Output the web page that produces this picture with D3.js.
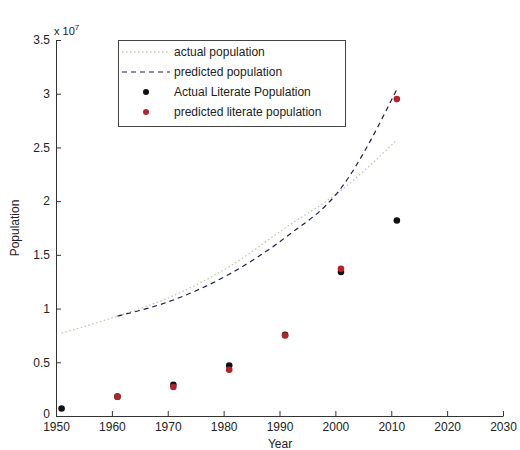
<!DOCTYPE html>
<html><head><meta charset="utf-8">
<script src="https://cdn.jsdelivr.net/npm/d3@7"></script>
<style>body{margin:0;background:#fff}svg{display:block}text{font-family:"Liberation Sans",Arial,sans-serif}</style>
</head><body><svg id="c" width="520" height="450"></svg>
<script>
// values in units of 1e7
const years = [1951, 1961, 1971, 1981, 1991, 2001, 2011];
const actualPopulation = [0.77, 0.93, 1.12, 1.39, 1.75, 2.10, 2.57];
const predYears = [1961, 1971, 1981, 1991, 2001, 2011];
const predictedPopulation = [0.93, 1.08, 1.32, 1.66, 2.12, 3.04];
const actualLiterate = [0.07, 0.18, 0.29, 0.47, 0.755, 1.34, 1.82];
const predictedLiterate = [null, 0.18, 0.27, 0.43, 0.75, 1.37, 2.95];
const xTicks = [1950,1960,1970,1980,1990,2000,2010,2020,2030];
const yTicks = [0,0.5,1,1.5,2,2.5,3,3.5];
const legendLabels = ["actual population","predicted population","Actual  Literate Population","predicted literate population"];

const svg = d3.select("#c");
const x = d3.scaleLinear().domain([1950,2030]).range([56,503]);
const y = d3.scaleLinear().domain([0,3.5]).range([416,40]);
const axisColor = "#333";

// lines
const line = d3.line().x(d=>x(d[0])).y(d=>y(d[1])).curve(d3.curveMonotoneX);
svg.append("path").datum(years.map((v,i)=>[v,actualPopulation[i]]))
  .attr("d",line).attr("fill","none").attr("stroke","#bccaa6").attr("stroke-width",1.3)
  .attr("stroke-dasharray","1.5,2.5");
svg.append("path").datum(predYears.map((v,i)=>[v,predictedPopulation[i]]))
  .attr("d",line).attr("fill","none").attr("stroke","#1c1f4a").attr("stroke-width",1.2)
  .attr("stroke-dasharray","5,4");

// points
svg.append("g").selectAll("circle").data(years.map((v,i)=>[v,actualLiterate[i]]))
  .join("circle").attr("cx",d=>x(d[0])).attr("cy",d=>y(d[1])).attr("r",3.3).attr("fill","#111");
svg.append("g").selectAll("circle").data(years.map((v,i)=>[v,predictedLiterate[i]]).filter(d=>d[1]!==null))
  .join("circle").attr("cx",d=>x(d[0])).attr("cy",d=>y(d[1])).attr("r",3.3).attr("fill","#b3232b");

// axes
const xa = svg.append("g").attr("transform","translate(0,416)")
  .call(d3.axisBottom(x).tickValues(xTicks).tickFormat(d3.format("d")).tickSizeInner(-5).tickSizeOuter(0).tickPadding(8));
const ya = svg.append("g").attr("transform","translate(56,0)")
  .call(d3.axisLeft(y).tickValues(yTicks).tickFormat(d=>d).tickSizeInner(-5).tickSizeOuter(0).tickPadding(6));
[xa,ya].forEach(a=>{
  a.selectAll("path,line").attr("stroke",axisColor);
  a.selectAll("text").attr("fill","#222").attr("font-size",12).attr("font-family","'Liberation Sans',Arial,sans-serif");
});
xa.selectAll("text").attr("dy","0.55em");
ya.selectAll("text").filter(d=>d===0).attr("dy","0.1em");

// exponent label
const ex = svg.append("text").attr("x",54).attr("y",35).attr("font-size",11).attr("fill","#222");
ex.append("tspan").text("x 10");
ex.append("tspan").attr("font-size",8).attr("dy",-5).text("7");

// axis titles
svg.append("text").attr("x",280).attr("y",448).attr("text-anchor","middle").attr("font-size",12).attr("fill","#222").text("Year");
svg.append("text").attr("transform","translate(19,228) rotate(-90)").attr("text-anchor","middle").attr("font-size",12).attr("fill","#222").text("Population");

// legend
const lg = svg.append("g");
lg.append("rect").attr("x",118.5).attr("y",40.5).attr("width",227).attr("height",86)
  .attr("fill","#fff").attr("stroke","#444").attr("stroke-width",1);
const rows = [52, 72, 92, 112];
lg.append("line").attr("x1",122).attr("x2",170).attr("y1",rows[0]).attr("y2",rows[0])
  .attr("stroke","#bccaa6").attr("stroke-width",1.3).attr("stroke-dasharray","1.5,2.5");
lg.append("line").attr("x1",122).attr("x2",170).attr("y1",rows[1]).attr("y2",rows[1])
  .attr("stroke","#1c1f4a").attr("stroke-width",1.2).attr("stroke-dasharray","5,4");
lg.append("circle").attr("cx",146).attr("cy",rows[2]).attr("r",3).attr("fill","#111");
lg.append("circle").attr("cx",146).attr("cy",rows[3]).attr("r",3).attr("fill","#b3232b");
lg.selectAll("text.l").data(legendLabels).join("text").attr("class","l")
  .attr("x",174).attr("y",(d,i)=>rows[i]).attr("dy","0.35em").attr("font-size",12).attr("fill","#222").text(d=>d);
</script></body></html>
